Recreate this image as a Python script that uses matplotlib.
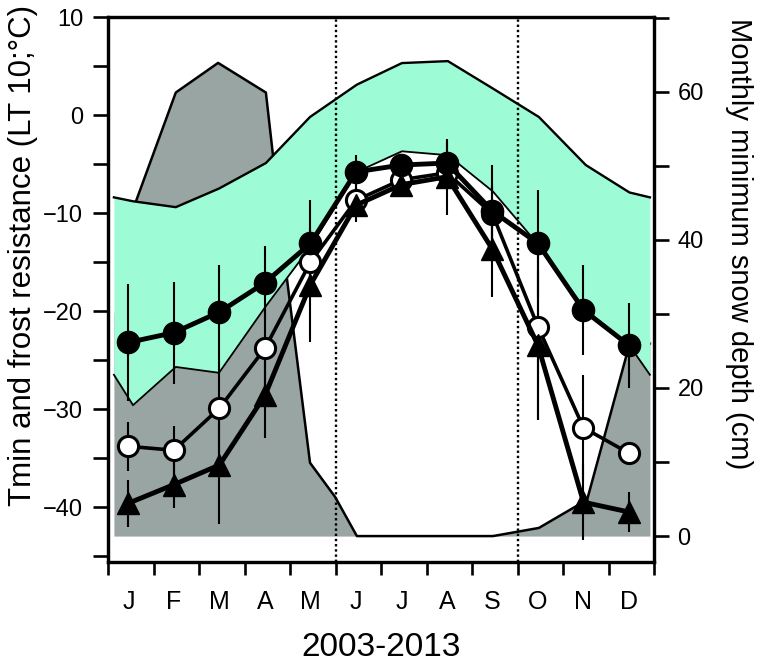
import numpy as np
import matplotlib
matplotlib.use('Agg')
import matplotlib.pyplot as plt
from matplotlib.ticker import MultipleLocator

plt.rcParams['font.family'] = ['Liberation Sans', 'DejaVu Sans']

# month labels and marker positions (month centres, x axis runs 0..12)
months = ['J', 'F', 'M', 'A', 'M', 'J', 'J', 'A', 'S', 'O', 'N', 'D']
month_pos = np.arange(12) + 0.45

# frost resistance series (LT 10, deg C) with error bars
filled_lt = [-23.2, -22.2, -20.1, -17.1, -13.1, -5.8, -5.1, -4.9, -9.8, -13.1, -19.9, -23.5]
filled_err = [6.0, 5.2, 4.8, 3.7, 4.4, 1.7, 0.8, 2.1, 4.7, 5.5, 4.6, 4.3]
open_lt = [-33.8, -34.2, -29.9, -23.8, -15.0, -8.7, -6.6, -5.9, -10.1, -21.6, -31.9, -34.5]
open_err = [2.5, 2.5, 5.0, 4.0, 3.0, 1.5, 1.0, 1.5, 3.0, 9.5, 5.4, 0.8]
tri_lt = [-39.6, -37.7, -35.7, -28.6, -17.3, -9.2, -7.1, -6.3, -13.7, -23.5, -39.5, -40.5]
tri_err = [2.4, 2.4, 6.0, 4.4, 5.9, 1.7, 1.0, 3.9, 4.9, 7.6, 3.9, 2.0]

# Tmin band (upper and lower edge)
band_x = [0.13, 0.55, 1.49, 2.44, 3.47, 4.44, 5.47, 6.46, 7.47, 8.46, 9.47, 10.5, 11.46, 11.91]
tmin_upper = [-8.4, -8.8, -9.4, -7.5, -4.9, -0.2, 3.1, 5.3, 5.5, 2.7, -0.2, -5.1, -7.9, -8.4]
tmin_lower = [-26.5, -29.6, -25.7, -26.3, -19.5, -13.5, -5.8, -3.7, -4.1, -7.8, -13.3, -19.9, -23.5, -26.5]

# monthly minimum snow depth (cm, right axis)
snow_x = [0.13, 0.62, 1.49, 2.42, 3.47, 3.93, 4.44, 4.99, 5.47, 8.46, 9.47, 10.53, 11.47, 11.91]
snow_cm = [30, 45.3, 59.9, 63.9, 59.9, 34.9, 9.9, 5.3, 0, 0, 1.1, 4.9, 26.1, 26]

gray = '#99a5a3'
cyan = '#9dfbd6'

fig = plt.figure(figsize=(7.58, 6.62), dpi=100)
ax = fig.add_axes([108/758, 1 - 562/662, 546/758, 545/662])
ax2 = ax.twinx()
# left axis on top of the snow axis
ax.set_zorder(ax2.get_zorder() + 1)
ax.patch.set_visible(False)

# snow depth
ax2.fill_between(snow_x, 0, snow_cm, color=gray, linewidth=0)
ax2.plot(snow_x[1:], snow_cm[1:], color='black', lw=1.8)
ax2.set_ylim(-3.5, 70.1)
ax2.yaxis.set_major_locator(MultipleLocator(20))
ax2.yaxis.set_minor_locator(MultipleLocator(10))

# Tmin band
ax.fill_between(band_x, tmin_lower, tmin_upper, color=cyan, linewidth=0, zorder=1)
ax.plot(band_x, tmin_upper, color='black', lw=1.7, zorder=2)
ax.plot(band_x, tmin_lower, color='black', lw=1.3, zorder=2)

for xv in (5, 9):
    ax.axvline(xv, color='black', ls=(0, (1, 1.2)), lw=1.7, zorder=2)

# series
ax.errorbar(month_pos, open_lt, yerr=open_err, fmt='none', ecolor='black', elinewidth=1.5, zorder=3)
ax.errorbar(month_pos, tri_lt, yerr=tri_err, fmt='none', ecolor='black', elinewidth=1.5, zorder=3)
ax.errorbar(month_pos, filled_lt, yerr=filled_err, fmt='none', ecolor='black', elinewidth=1.5, zorder=3)
ax.plot(month_pos, open_lt, color='black', lw=2.6, marker='o', ms=14.5,
        mfc='white', mec='black', mew=2.2, zorder=4)
ax.plot(month_pos, tri_lt, color='black', lw=3.5, marker='^', ms=15.5,
        mfc='black', mec='black', zorder=5)
ax.plot(month_pos, filled_lt, color='black', lw=3.5, marker='o', ms=16,
        mfc='black', mec='black', zorder=6)

ax.set_xlim(0, 12)
ax.set_ylim(-45.6, 10)
ax.yaxis.set_major_locator(MultipleLocator(10))
ax.yaxis.set_minor_locator(MultipleLocator(5))
ax.set_xticks(np.arange(13))
ax.set_xticklabels([])
ax.set_xticks(month_pos, minor=True)
ax.set_xticklabels(months, minor=True, fontsize=18)

for a in (ax, ax2):
    for s in a.spines.values():
        s.set_linewidth(2.3)

ax.tick_params(axis='y', which='both', direction='out', length=11, width=1.9, labelsize=17, pad=7)
ax.tick_params(axis='x', which='major', direction='out', length=9, width=1.9)
ax.tick_params(axis='x', which='minor', length=0, pad=20)
ax2.tick_params(axis='y', which='both', direction='out', length=11, width=1.9, labelsize=17, pad=6)

ax.set_ylabel('Tmin and frost resistance (LT 10;\u00b0C)', fontsize=22.5)
ax.yaxis.set_label_coords(-0.128, 0.563)
ax2.set_ylabel('Monthly minimum snow depth (cm)', fontsize=21, rotation=270, va='bottom')
ax2.yaxis.set_label_coords(1.13, 0.585)
ax.set_xlabel('2003-2013', fontsize=24, labelpad=13)

fig.savefig('out.png', dpi=100)
